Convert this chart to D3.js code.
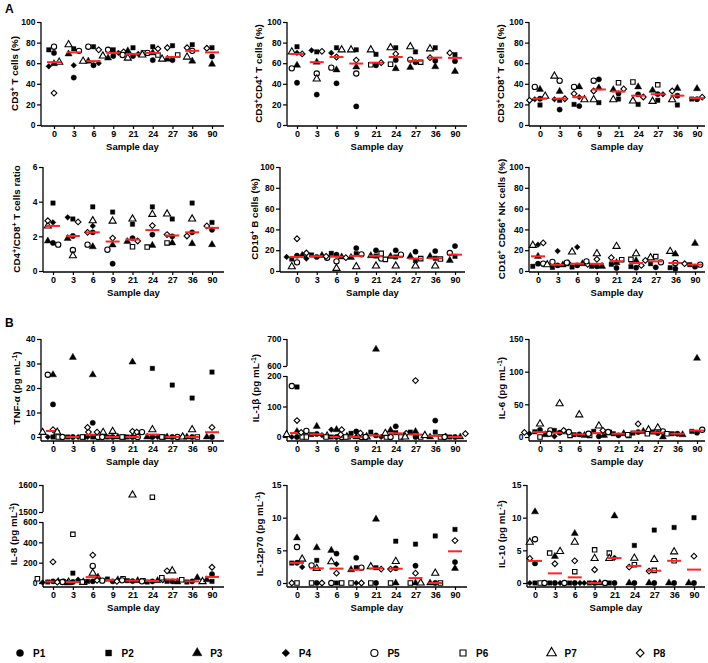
<!DOCTYPE html>
<html><head><meta charset="utf-8">
<script src="https://cdn.jsdelivr.net/npm/d3@7"></script>
<style>body{margin:0;background:#fff}</style>
</head><body><svg id="c" width="708" height="663" xmlns="http://www.w3.org/2000/svg"></svg>
<script>
// ---------- data ----------
const days = ["0","3","6","9","21","24","27","36","90"];
const subjects = ["P1","P2","P3","P4","P5","P6","P7","P8"];
const shapes = ["circle","square","triangle","diamond","circle","square","triangle","diamond"];
const filledFlags = [true,true,true,true,false,false,false,false];

// rows = P1..P8, columns = days
const cd3T = [
 [70,46,58,67,67,63,63,null,66.5],
 [73,74,76,73,75,76,77,78,75],
 [59.5,69,62,65,72,70,64,62,59],
 [57,58,60,70,69,null,null,null,null],
 [76,72,76,73,68,70,null,72,null],
 [null,null,null,null,70,68,68,null,null],
 [61,78,62,67,65,68,64,66,null],
 [31,null,73,71,null,74,75,75,74.5]];
const cd4T = [
 [41,29.5,40.5,18,58,63,61,62.5,62],
 [76,71,75,73,68.6,75,71,75,68.3],
 [58,61,53.5,56.3,null,54.7,56,56.6,52],
 [70,72.5,70,null,null,null,null,null,null],
 [55,50,55.7,50,null,null,63.5,null,null],
 [null,null,null,null,58.5,59,61,null,null],
 [71,44.7,73,73,73,75,76,74,null],
 [69,71.5,66,63,60.5,69,null,65.4,70]];
const cd8T = [
 [25.5,15,18.4,44.3,30.7,29.8,30,28.5,25],
 [19.4,24,20,21.7,25.2,20,24,19.4,25.2],
 [34.6,32.7,37,36,34.3,37,33.7,35.6,35.3],
 [25,25,27,null,null,null,29.8,null,null],
 [37,43,37,43,null,null,null,null,null],
 [null,null,null,null,41,41.7,39,null,null],
 [28,47.5,24.6,24.6,24.6,23.3,23,24.6,null],
 [24,25.5,30.4,33,35,27.2,null,33,27]];
const cd4cd8Ratio = [
 [1.62,2.02,2.23,0.42,1.9,2.1,2.0,2.23,2.38],
 [3.92,3.0,3.7,3.4,2.7,3.7,3.0,3.92,2.8],
 [1.73,1.88,1.4,1.5,1.7,1.48,1.62,1.58,1.52],
 [2.8,3.1,2.6,null,null,null,null,null,null],
 [1.52,1.21,1.52,1.23,null,null,null,null,null],
 [null,null,null,null,1.4,1.38,1.62,null,null],
 [2.6,0.88,2.9,2.88,3.0,3.27,3.29,3.0,null],
 [2.9,2.83,2.23,1.9,1.73,2.62,2.1,2.02,2.6]];
const cd19B = [
 [14.7,13.5,15.7,22,19.9,19.9,18.6,19.2,24],
 [11.5,15.4,17,16.7,14.4,13.5,10,12.2,14.1],
 [15,15,13.5,13.1,14.7,14.1,14.1,14.1,10.2],
 [13.5,11.9,null,null,null,null,null,null,null],
 [8.3,12.8,9.3,16,11.9,15.7,null,null,17.3],
 [null,null,null,null,17,11.2,11.9,11.5,null],
 [4.2,null,2.6,4.2,4.8,4.8,4.8,4.8,null],
 [31,17.3,14.1,12.8,null,null,null,null,null]];
const nkCells = [
 [7,5.4,5.4,4.5,2.9,3.2,3.5,2.2,4.2],
 [4.5,3.5,3.8,4.5,6.4,4.2,7,3.2,6.1],
 [14.1,5.8,7,4.5,8,10,null,16.3,26.6],
 [25.3,19.2,23,null,null,null,null,null,null],
 [7,8.7,8,9.3,null,null,8.3,7.7,6.1],
 [null,null,null,null,10.9,11.2,13.8,null,null],
 [24.7,6,18.3,16.7,23.7,16.7,12.8,18.9,null],
 [27,7.7,6.4,11.2,12.8,5.4,10.2,null,7]];
const tnfA = [
 [13.3,0,5.8,0,0,0,0,0,0],
 [0,0,0,0,0,28,21.2,15.9,26.5],
 [25.4,32.5,25.4,0,30.6,0,0,0,0],
 [0,0,0,null,null,0,null,null,null],
 [25.4,0,0,0,0,2,0,null,null],
 [0,0,0,0,0,0,0,0,null],
 [1.9,2,1.9,2.3,null,3,0,3,null],
 [3,2,3.9,2,2.3,2,null,null,3.9]];
const il1b = [
 [0,10,0,18,5,35,0,54,0],
 [164,8,0,12,16,14,16,16,0],
 [18,35,24,0,662,22,18,0,0],
 [0,6,24,null,0,null,null,null,null],
 [167,20,0,0,0,0,null,null,0],
 [0,0,0,0,0,0,0,0,null],
 [8,3,0,0,null,12,0,5,null],
 [54,15,24,8,13,12,185,2,11]];
const il6 = [
 [11,6.5,4,1,2.5,7.6,6,5,6.6],
 [8,10,3.5,8.6,5,6,7.6,5,8.6],
 [3.5,7.6,2.5,2.5,5,8.6,0,3.5,120.5],
 [5,1,null,null,null,null,null,null,null],
 [10,5,7.6,5,7.6,null,8.6,null,11],
 [0,2.5,2.5,7,2.5,3.5,5,5,null],
 [20,51,34,17,null,11,14,null,null],
 [7,null,10,null,10,20,null,null,null]];
const il8 = [
 [16,10,16,16,19,16,16,16,87],
 [10,97,16,39,23,10,16,10,16],
 [15,0,58,32,23,23,10,52,32],
 [5,32,null,null,null,null,null,null,null],
 [12,10,168,23,26,16,null,null,null],
 [42,479,10,42,23,1555,52,32,null],
 [8,5,97,null,1563,null,120,14,null],
 [207,8,275,26,16,32,120,null,155]];
const il12p70 = [
 [3.1,0,4.5,3.86,0,2.24,2.64,0,3.2],
 [3.05,3.46,0,2.34,2.34,6.4,5.95,7.2,8.2],
 [6.9,5.4,5.0,2.03,9.76,0,0,0,2.24],
 [2.44,null,2.9,0,null,null,null,null,null],
 [5.5,2.7,0,2.34,null,null,null,null,null],
 [0,0,0,0,0,0,0,0,null],
 [3.66,2.24,3.25,null,2.49,3.3,0,1.5,null],
 [0,0,1.5,0,2.13,2.13,1.5,null,6.5]];
const il10 = [
 [3.0,0,0,0,0,0,0,0,0],
 [0,0,0,0,0,5.75,8.1,8.5,10],
 [10.9,4.07,7.57,0,10.27,0,0,0,0],
 [0,0,0,0,3.86,null,null,null,null],
 [6.7,0,0,0,null,null,null,null,null],
 [0,4.58,1.73,5.08,4.58,2.8,1.93,3.4,null],
 [6.25,4.83,6.25,3.76,3.76,3.8,3.6,4.78,null],
 [3.76,2.95,3.4,2.03,null,2.44,1.83,null,4.1]];

const pctTicks = [0,20,40,60,80,100];
const ratioTicks = [0,2,4,6];
const tnfTicks = [0,10,20,30,40];
const il1bLowTicks = [0,100,200], il1bHighTicks = [600,700];
const il6Ticks = [0,50,100,150];
const il8LowTicks = [0,200,400,600], il8HighTicks = [1500,1600];
const smallTicks = [0,5,10,15];

// ---------- layout ----------
const FONT = "'Liberation Sans', Arial, sans-serif";
const YTICK_FS = 8.5, XTICK_FS = 9, LABEL_FS = 9.8, XLABEL_FS = 9.5;
const panels = [
 {vals:cd3T, label:[["CD3"],["+",1],[" T cells (%)"]], ticks:pctTicks, max:100, ax:41, x0:54, x1:212, xEnd:224, y0:125, yTop:22, pad:1, lx:15},
 {vals:cd4T, label:[["CD3"],["+",1],["CD4"],["+",1],[" T cells (%)"]], ticks:pctTicks, max:100, ax:287, x0:297, x1:455, xEnd:467, y0:125, yTop:22, pad:1, lx:259},
 {vals:cd8T, label:[["CD3"],["+",1],["CD8"],["+",1],[" T cells (%)"]], ticks:pctTicks, max:100, ax:529, x0:540, x1:697, xEnd:705, y0:125, yTop:22, pad:1, lx:501},
 {vals:cd4cd8Ratio, label:[["CD4"],["+",1],["/CD8"],["+",1],[" T cells ratio"]], ticks:ratioTicks, max:6, ax:43, x0:53, x1:212, xEnd:224, y0:271, yTop:167, pad:1, lx:17},
 {vals:cd19B, label:[["CD19"],["+",1],[" B cells (%)"]], ticks:pctTicks, max:100, ax:280, x0:297, x1:455, xEnd:465, y0:271, yTop:167, pad:1, lx:255},
 {vals:nkCells, label:[["CD16"],["+",1],[" CD56"],["+",1],[" NK cells (%)"]], ticks:pctTicks, max:100, ax:529, x0:538, x1:695, xEnd:705, y0:271, yTop:167, pad:1, lx:502},
 {vals:tnfA, label:[["TNF-α (pg mL"],["-1",1],[")"]], ticks:tnfTicks, max:40, ax:41, x0:53, x1:212, xEnd:224, y0:437, yTop:339, pad:4, lx:17},
 {vals:il1b, label:[["IL-1β (pg mL"],["-1",1],[")"]], ticks:null, max:700, ax:287, x0:297, x1:455, xEnd:467, y0:437, yTop:339, pad:4, lx:256,
   broken:{lowMax:200, lowTop:376, upMin:600, upBottom:366, lowTicks:il1bLowTicks, upTicks:il1bHighTicks}},
 {vals:il6, label:[["IL-6 (pg mL"],["-1",1],[")"]], ticks:il6Ticks, max:150, ax:529, x0:540, x1:697, xEnd:705, y0:437, yTop:339, pad:4, lx:502},
 {vals:il8, label:[["IL-8 (pg mL"],["-1",1],[")"]], ticks:null, max:1600, ax:43, x0:53, x1:212, xEnd:224, y0:583, yTop:485, pad:4, lx:14,
   broken:{lowMax:600, lowTop:522, upMin:1500, upBottom:512, lowTicks:il8LowTicks, upTicks:il8HighTicks}},
 {vals:il12p70, label:[["IL-12p70 (pg mL"],["-1",1],[")"]], ticks:smallTicks, max:15, ax:287, x0:297, x1:455, xEnd:467, y0:583, yTop:485, pad:4, lx:260},
 {vals:il10, label:[["IL-10 (pg mL"],["-1",1],[")"]], ticks:smallTicks, max:15, ax:527, x0:535, x1:694, xEnd:705, y0:583, yTop:485, pad:4, lx:502}
];

const svg = d3.select("#c");
svg.append("rect").attr("width",708).attr("height",663).attr("fill","#fff");

function symPath(shape, size){
  if(shape==="circle") return d3.symbol(d3.symbolCircle, size)();
  if(shape==="square") return d3.symbol(d3.symbolSquare, size*0.9)();
  if(shape==="triangle") return d3.symbol(d3.symbolTriangle, size)();
  return d3.symbol(d3.symbolSquare, size*0.75)();
}
function drawSym(g, shape, filled, x, y, size){
  g.append("path").attr("d", symPath(shape,size))
   .attr("transform", `translate(${x},${y})` + (shape==="diamond" ? " rotate(45)" : ""))
   .attr("fill", filled ? "#000" : "#fff")
   .attr("stroke", "#000").attr("stroke-width", filled ? 0.4 : 1.1);
}
function styleAxis(fs){
  return g=>{
    g.select(".domain").remove();
    g.selectAll("line").attr("stroke","#000").attr("stroke-width",1.2);
    g.selectAll("text").attr("font-family",FONT).attr("font-weight","bold").attr("font-size",fs).attr("fill","#000");
  };
}

panels.forEach(p=>{
  const g = svg.append("g");
  let yf, segs;
  if(!p.broken){
    const s = d3.scaleLinear().domain([0,p.max]).range([p.y0,p.yTop]);
    yf = v=>s(v);
    segs = [{s, ticks:p.ticks, top:p.yTop, bottom:p.y0+p.pad}];
  } else {
    const b = p.broken;
    const lo = d3.scaleLinear().domain([0,b.lowMax]).range([p.y0,b.lowTop]);
    const hi = d3.scaleLinear().domain([b.upMin,p.max]).range([b.upBottom,p.yTop]);
    yf = v=> v<=b.lowMax ? lo(v) : hi(v);
    segs = [{s:lo, ticks:b.lowTicks, top:b.lowTop, bottom:p.y0+p.pad},{s:hi, ticks:b.upTicks, top:p.yTop, bottom:b.upBottom}];
  }
  segs.forEach(sg=>{
    g.append("g").attr("transform",`translate(${p.ax},0)`)
     .call(d3.axisLeft(sg.s).tickValues(sg.ticks).tickFormat(d3.format("d")).tickSize(4).tickPadding(1.5)).call(styleAxis(YTICK_FS));
    g.append("line").attr("x1",p.ax).attr("x2",p.ax).attr("y1",sg.bottom).attr("y2",sg.top)
     .attr("stroke","#000").attr("stroke-width",1.3);
  });
  const xs = d3.scalePoint().domain(days).range([p.x0,p.x1]);
  const xAxisY = p.y0 + p.pad;
  g.append("g").attr("transform",`translate(0,${xAxisY})`)
   .call(d3.axisBottom(xs).tickSize(3).tickPadding(2)).call(styleAxis(XTICK_FS));
  g.append("line").attr("x1",p.ax).attr("x2",p.xEnd).attr("y1",xAxisY).attr("y2",xAxisY)
   .attr("stroke","#000").attr("stroke-width",1.3);
  g.append("text").attr("x",(p.ax+p.xEnd)/2).attr("y",xAxisY+24).attr("text-anchor","middle")
   .attr("font-family",FONT).attr("font-weight","bold").attr("font-size",XLABEL_FS).text("Sample day");
  const cy = (p.yTop + p.y0)/2;
  const t = g.append("text").attr("transform",`translate(${p.lx},${cy}) rotate(-90)`).attr("text-anchor","middle")
   .attr("font-family",FONT).attr("font-weight","bold").attr("font-size",LABEL_FS).attr("dy","0.35em");
  let prevSup = false;
  p.label.forEach(([txt,sup])=>{
    const ts = t.append("tspan").text(txt);
    if(sup){ ts.attr("font-size",7).attr("dy", prevSup? 0 : -3.5); prevSup = true; }
    else if(prevSup){ ts.attr("dy",3.5); prevSup=false; }
  });
  const spacing = 5.2;
  days.forEach((d,j)=>{
    const cx = xs(d);
    const pts = [];
    subjects.forEach((s,i)=>{ const v = p.vals[i][j]; if(v!=null) pts.push({i, v, py:yf(v)}); });
    const placed = [];
    pts.forEach(pt=>{
      let k=0, off=0;
      while(true){
        off = (k===0)?0:((k%2===1)?-1:1)*Math.ceil(k/2)*spacing;
        const ok = placed.every(q=> Math.hypot(q.dx-off, q.py-pt.py) >= spacing);
        if(ok) break; k++; if(k>20) break;
      }
      pt.dx = off; placed.push(pt);
    });
    placed.forEach(pt=> drawSym(g, shapes[pt.i], filledFlags[pt.i], cx+pt.dx, pt.py, 22));
    const med = d3.median(pts, q=>q.v);
    if(med!=null) g.append("line").attr("x1",cx-7).attr("x2",cx+7).attr("y1",yf(med)).attr("y2",yf(med))
      .attr("stroke","#ff2323").attr("stroke-width",2);
  });
});

svg.append("text").attr("x",5).attr("y",13).attr("font-family",FONT).attr("font-weight","bold").attr("font-size",12).text("A");
svg.append("text").attr("x",5).attr("y",327).attr("font-family",FONT).attr("font-weight","bold").attr("font-size",12).text("B");

const lg = svg.append("g");
subjects.forEach((s,i)=>{
  const x = 20 + i*88.6, y = 653;
  drawSym(lg, shapes[i], filledFlags[i], x, y, 40);
  lg.append("text").attr("x",x+13).attr("y",y).attr("dy","0.35em").attr("font-family",FONT)
    .attr("font-weight","bold").attr("font-size",10).text(s);
});
</script></body></html>
